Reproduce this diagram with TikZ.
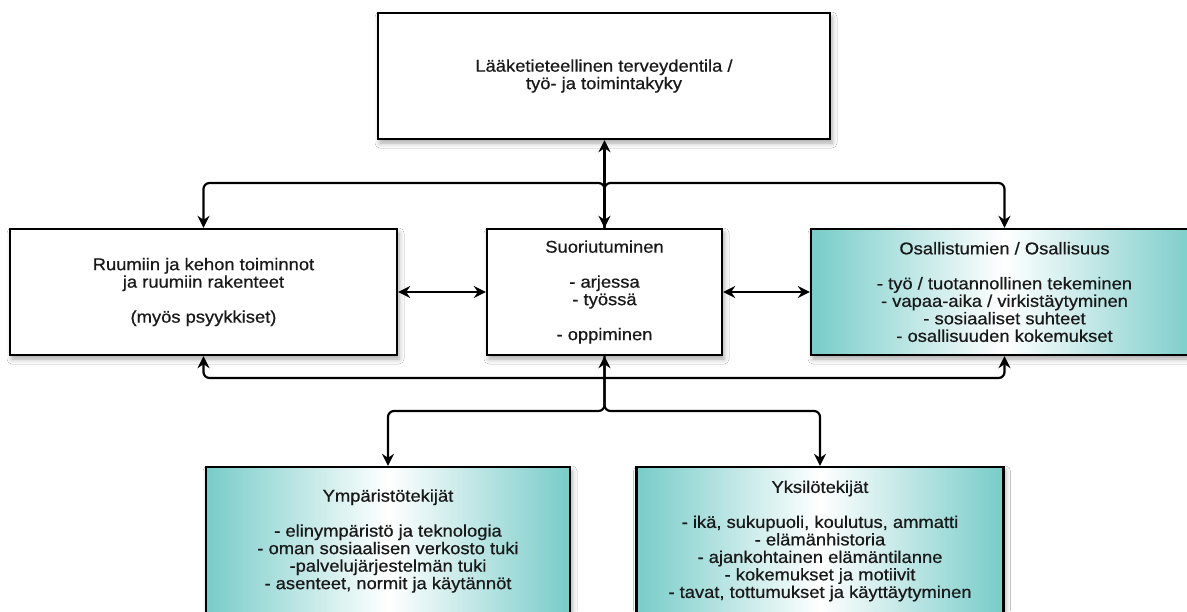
\documentclass[tikz,border=0pt]{standalone}
\usepackage{fontspec}
\setmainfont{Liberation Sans}[FakeStretch=1.08,FakeBold=0.6]
\usetikzlibrary{arrows.meta,shadows.blur}
\definecolor{tealc}{RGB}{120,204,201}
\definecolor{txt}{RGB}{25,25,25}
\begin{document}
\begin{tikzpicture}[x=1pt,y=-1pt,
  >={Stealth[length=12pt,width=12pt,inset=4pt]},
  box/.style={draw=black, line width=2.4pt, fill=white, align=center, inner sep=0pt,
    text=txt, font=\fontsize{17}{17.5}\selectfont,
    blur shadow={shadow xshift=2pt,shadow yshift=-4pt,shadow blur radius=5pt,shadow opacity=35}},
  gbox/.style={box, left color=tealc, right color=tealc, middle color=white},
  conn/.style={line width=2.2pt, rounded corners=6pt}]
\fill[white] (0,0) rectangle (1187,611);
\useasboundingbox (0,0) rectangle (1187,611);
\clip (0,0) rectangle (1187,611);

\node[box, minimum width=452pt, minimum height=126pt] (top) at (604,76)
  {Lääketieteellinen terveydentila /\\työ- ja toimintakyky};
\node[box, minimum width=387pt, minimum height=126pt] (left) at (203.5,292)
  {Ruumiin ja kehon toiminnot\\ja ruumiin rakenteet\\[17.5pt](myös psyykkiset)};
\node[box, minimum width=235pt, minimum height=126pt] (mid) at (604.5,292)
  {Suoriutuminen\\[17.5pt]- arjessa\\- työssä\\[17.5pt]- oppiminen};
\node[gbox, minimum width=387pt, minimum height=126pt] (right) at (1004.5,292)
  {Osallistumien / Osallisuus\\[17.5pt]- työ / tuotannollinen tekeminen\\- vapaa-aika / virkistäytyminen\\- sosiaaliset suhteet\\- osallisuuden kokemukset};
\node[gbox, minimum width=364pt, minimum height=148pt] (bl) at (388,541)
  {Ympäristötekijät\\[17.5pt]- elinympäristö ja teknologia\\- oman sosiaalisen verkosto tuki\\-palvelujärjestelmän tuki\\- asenteet, normit ja käytännöt};
\node[gbox, minimum width=367pt, minimum height=148pt] (br) at (820,541)
  {Yksilötekijät\\[17.5pt]- ikä, sukupuoli, koulutus, ammatti\\- elämänhistoria\\- ajankohtainen elämäntilanne\\- kokemukset ja motiivit\\- tavat, tottumukset ja käyttäytyminen};

\coordinate (jt) at (604.5,183);
\coordinate (jb) at (604.5,378);
\coordinate (jm) at (604.5,411);

\draw[conn,<->] (top.south -| mid.north) -- (mid.north);
\draw[conn,->] (mid.north) -- (jt) -| (left.north);
\draw[conn,->] (mid.north) -- (jt) -| (right.north);
\draw[conn,<->] (left.south) |- (jb) -| (right.south);
\draw[conn,<->] (bl.north) |- (jm) -- (mid.south);
\draw[conn,->] (mid.south) -- (jm) -| (br.north);
\draw[conn,<->] (left.east) -- (mid.west);
\draw[conn,<->] (mid.east) -- (right.west);
\end{tikzpicture}
\end{document}
